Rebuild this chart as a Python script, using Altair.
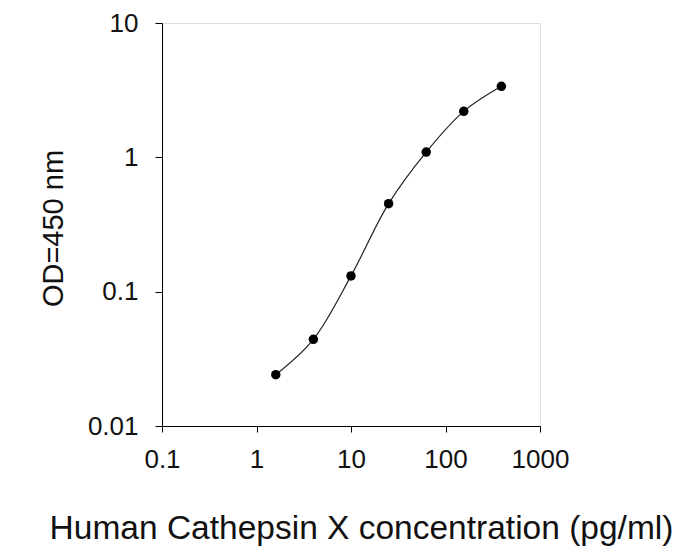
import altair as alt
import pandas as pd

conc = [1.6, 4.0, 10.0, 25.0, 62.5, 156.0, 390.0]
od = [0.0241, 0.0442, 0.131, 0.452, 1.095, 2.20, 3.38]

x_ticks = [0.1, 1, 10, 100, 1000]
y_ticks = [0.01, 0.1, 1, 10]

df = pd.DataFrame({"conc": conc, "od": od})

FONT = "Liberation Sans"

x_enc = alt.X(
    "conc:Q",
    scale=alt.Scale(type="log", domain=[0.1, 1000], nice=False),
    axis=alt.Axis(
        values=x_ticks,
        labelExpr="datum.value < 1 ? format(datum.value, '.2~f') : format(datum.value, 'd')",
        title="Human Cathepsin X concentration (pg/ml)",
        grid=False,
        tickSize=6,
        tickColor="black",
        domainColor="black",
        labelPadding=14,
        labelFontSize=26,
        labelColor="#111111",
        labelFont=FONT,
        labelFlush=False,
        labelOverlap=False,
        titleFont=FONT,
        titleFontSize=33.5,
        titleFontWeight="normal",
        titleColor="#111111",
        titleX=199,
        titleY=112,
        titleBaseline="alphabetic",
        titleAlign="center",
        titleAnchor="start",
    ),
)

y_enc = alt.Y(
    "od:Q",
    scale=alt.Scale(type="log", domain=[0.01, 10], nice=False),
    axis=alt.Axis(
        values=y_ticks,
        labelExpr="datum.value < 1 ? format(datum.value, '.2~f') : format(datum.value, 'd')",
        title="OD=450 nm",
        grid=False,
        tickSize=7,
        tickColor="black",
        domainColor="black",
        labelPadding=17,
        labelFontSize=26,
        labelColor="#111111",
        labelFont=FONT,
        labelFlush=False,
        labelOverlap=False,
        titleFont=FONT,
        titleFontSize=29,
        titleFontWeight="normal",
        titleColor="#111111",
        titleAngle=270,
        titleX=-100,
        titleY=205,
        titleBaseline="alphabetic",
        titleAlign="center",
        titleAnchor="start",
    ),
)

line = alt.Chart(df).mark_line(color="#222222", strokeWidth=1.2, interpolate="catmull-rom").encode(
    x=x_enc, y=y_enc
)
pts = alt.Chart(df).mark_point(filled=True, color="black", size=90, opacity=1).encode(
    x="conc:Q", y="od:Q"
)

chart = (
    alt.layer(line, pts)
    .properties(
        width=378,
        height=403,
        autosize=alt.AutoSizeParams(type="none"),
        padding={"left": 154, "top": 15, "right": 141, "bottom": 120},
    )
    .configure_view(stroke="black", strokeWidth=1.5)
    .configure(background="white")
)

chart.save("out.html", embed_options={"renderer": "svg", "actions": False})
